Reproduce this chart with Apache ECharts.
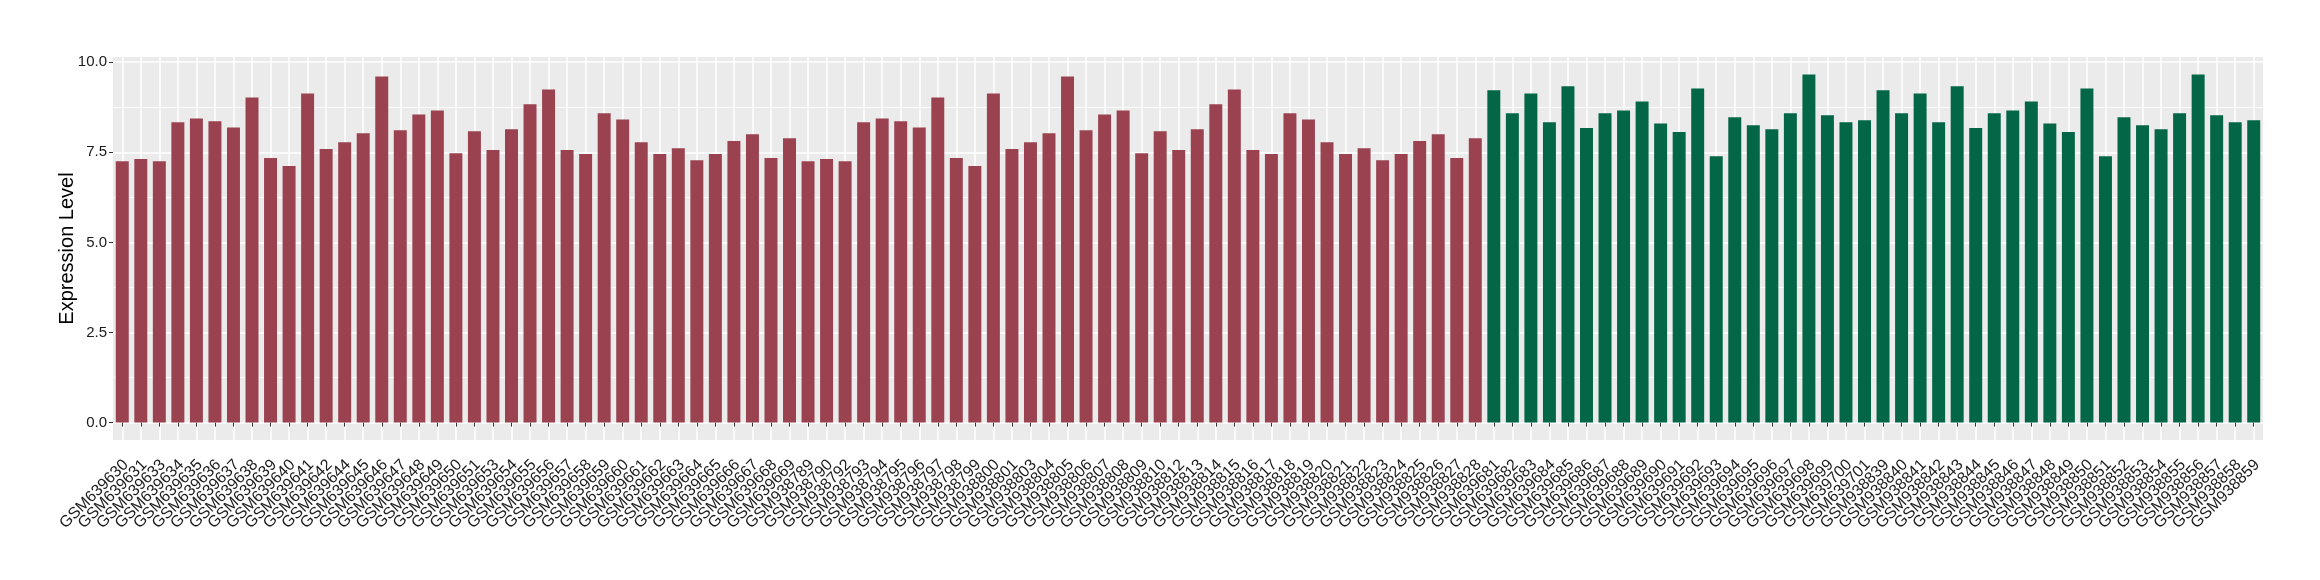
<!DOCTYPE html>
<html>
<head>
<meta charset="utf-8">
<script src="https://cdn.jsdelivr.net/npm/echarts@6/dist/echarts.min.js"></script>
<style>
  html, body { margin: 0; padding: 0; background: #ffffff; }
  #chart { width: 2320px; height: 580px; }
</style>
</head>
<body>
<div id="chart"></div>
<script>
// ---- Data ----
const redSamples = [
  "GSM639630","GSM639631","GSM639633","GSM639634","GSM639635","GSM639636","GSM639637","GSM639638","GSM639639","GSM639640",
  "GSM639641","GSM639642","GSM639644","GSM639645","GSM639646","GSM639647","GSM639648","GSM639649","GSM639650","GSM639651",
  "GSM639653","GSM639654","GSM639655","GSM639656","GSM639657","GSM639658","GSM639659","GSM639660","GSM639661","GSM639662",
  "GSM639663","GSM639664","GSM639665","GSM639666","GSM639667","GSM639668","GSM639669",
  "GSM938789","GSM938790","GSM938792","GSM938793","GSM938794","GSM938795","GSM938796","GSM938797","GSM938798","GSM938799",
  "GSM938800","GSM938801","GSM938803","GSM938804","GSM938805","GSM938806","GSM938807","GSM938808","GSM938809","GSM938810",
  "GSM938812","GSM938813","GSM938814","GSM938815","GSM938816","GSM938817","GSM938818","GSM938819","GSM938820","GSM938821",
  "GSM938822","GSM938823","GSM938824","GSM938825","GSM938826","GSM938827","GSM938828"
];
const redValues = [
  7.25, 7.31, 7.25, 8.33, 8.44, 8.36, 8.19, 9.02, 7.34, 7.12,
  9.13, 7.59, 7.78, 8.03, 9.60, 8.11, 8.55, 8.66, 7.47, 8.08,
  7.56, 8.14, 8.83, 9.24, 7.56, 7.45, 8.58, 8.41, 7.78, 7.45,
  7.61, 7.28, 7.45, 7.81, 8.00, 7.34, 7.89,
  7.25, 7.31, 7.25, 8.33, 8.44, 8.36, 8.19, 9.02, 7.34, 7.12,
  9.13, 7.59, 7.78, 8.03, 9.60, 8.11, 8.55, 8.66, 7.47, 8.08,
  7.56, 8.14, 8.83, 9.24, 7.56, 7.45, 8.58, 8.41, 7.78, 7.45,
  7.61, 7.28, 7.45, 7.81, 8.00, 7.34, 7.89
];
const greenSamples = [
  "GSM639681","GSM639682","GSM639683","GSM639684","GSM639685","GSM639686","GSM639687","GSM639688","GSM639689","GSM639690",
  "GSM639691","GSM639692","GSM639693","GSM639694","GSM639695","GSM639696","GSM639697","GSM639698","GSM639699","GSM639700",
  "GSM639701",
  "GSM938839","GSM938840","GSM938841","GSM938842","GSM938843","GSM938844","GSM938845","GSM938846","GSM938847","GSM938848",
  "GSM938849","GSM938850","GSM938851","GSM938852","GSM938853","GSM938854","GSM938855","GSM938856","GSM938857","GSM938858",
  "GSM938859"
];
const greenValues = [
  9.22, 8.58, 9.13, 8.33, 9.33, 8.17, 8.58, 8.66, 8.91, 8.30,
  8.06, 9.27, 7.39, 8.47, 8.25, 8.14, 8.58, 9.66, 8.53, 8.33,
  8.39,
  9.22, 8.58, 9.13, 8.33, 9.33, 8.17, 8.58, 8.66, 8.91, 8.30,
  8.06, 9.27, 7.39, 8.47, 8.25, 8.14, 8.58, 9.66, 8.53, 8.33,
  8.39
];
const yTicks = [0, 2.5, 5, 7.5, 10];
const yMinorTicks = [1.25, 3.75, 6.25, 8.75];
const yTitle = "Expression Level";

// ---- Build ----
const categories = redSamples.concat(greenSamples);
const redData = redValues.concat(greenSamples.map(() => null));
const greenData = redSamples.map(() => null).concat(greenValues);

const FONT = "'Liberation Sans', Arial, Helvetica, sans-serif";
const chart = echarts.init(document.getElementById('chart'), null, { renderer: 'canvas' });

const yMin = -0.483, yMax = 10.143;

chart.setOption({
  animation: false,
  backgroundColor: '#ffffff',
  textStyle: { fontFamily: FONT },
  grid: {
    left: 113, right: 57, top: 57, bottom: 140,
    show: true, backgroundColor: '#EBEBEB', borderWidth: 0
  },
  xAxis: {
    type: 'category',
    data: categories,
    boundaryGap: true,
    axisLine: { show: false },
    axisTick: { show: true, alignWithLabel: true, interval: 0, length: 4, lineStyle: { color: '#333333', width: 1 } },
    axisLabel: {
      interval: 0, rotate: 45, margin: 26,
      padding: [0, -5, 0, 0],
      fontSize: 16, color: '#1a1a1a', fontFamily: FONT
    },
    splitLine: { show: true, alignWithLabel: true, interval: 0, lineStyle: { color: '#ffffff', width: 1.5 } }
  },
  yAxis: [
    {
      type: 'value',
      min: yMin, max: yMax,
      name: yTitle,
      nameLocation: 'middle',
      nameGap: 36,
      nameRotate: 90,
      nameMoveOverlap: false,
      nameTextStyle: { fontSize: 20, color: '#000000', fontFamily: FONT },
      axisLine: { show: false },
      axisTick: { show: true, length: 4, customValues: yTicks, lineStyle: { color: '#333333' } },
      axisLabel: {
        customValues: yTicks, margin: 6, fontSize: 15, color: '#1a1a1a', fontFamily: FONT,
        formatter: v => Number(v).toFixed(1)
      },
      splitLine: { show: true, customValues: yTicks, lineStyle: { color: '#ffffff', width: 1.5 } }
    },
    {
      type: 'value',
      min: yMin, max: yMax,
      axisLine: { show: false },
      axisTick: { show: false, customValues: yMinorTicks },
      axisLabel: { show: false, customValues: yMinorTicks },
      splitLine: { show: true, customValues: yMinorTicks, lineStyle: { color: '#ffffff', width: 0.8 } }
    }
  ],
  series: [
    {
      name: 'group1', type: 'bar', stack: 'g', data: redData,
      barWidth: '70%', itemStyle: { color: '#9A4250' }
    },
    {
      name: 'group2', type: 'bar', stack: 'g', data: greenData,
      barWidth: '70%', itemStyle: { color: '#036646' }
    }
  ]
});
</script>
</body>
</html>
